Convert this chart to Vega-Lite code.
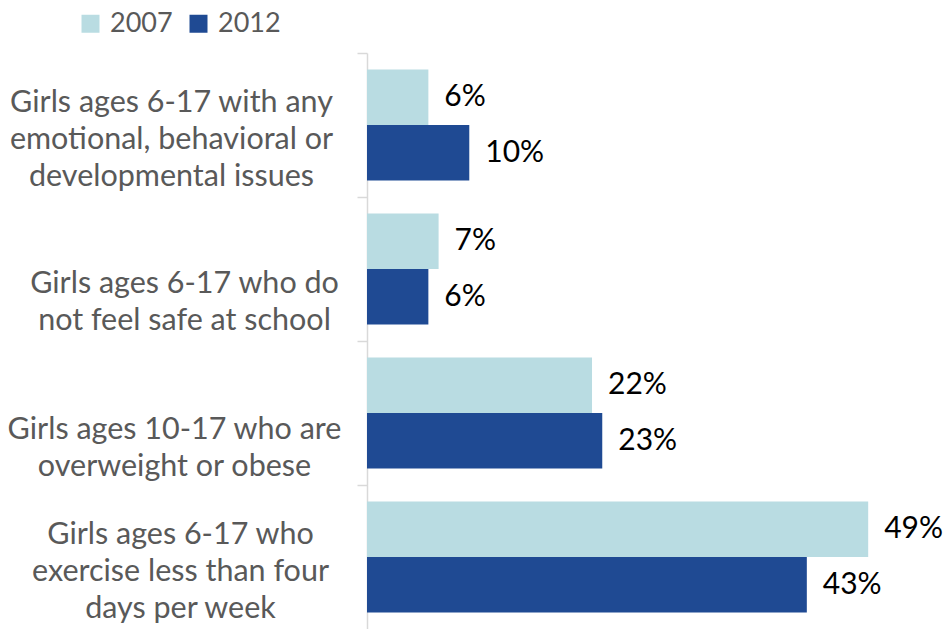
{
  "$schema": "https://vega.github.io/schema/vega-lite/v6.json",
  "width": 582,
  "height": 576,
  "autosize": {"type": "none"},
  "padding": {"left": 367, "top": 53, "right": 0, "bottom": 0},
  "background": "white",
  "config": {"view": {"stroke": null}},
  "data": {
    "values": [
      {"category": "Girls ages 6-17 with any|emotional, behavioral or|developmental issues", "year": "2007", "value": 6},
      {"category": "Girls ages 6-17 with any|emotional, behavioral or|developmental issues", "year": "2012", "value": 10},
      {"category": "Girls ages 6-17 who do|not feel safe at school", "year": "2007", "value": 7},
      {"category": "Girls ages 6-17 who do|not feel safe at school", "year": "2012", "value": 6},
      {"category": "Girls ages 10-17 who are|overweight or obese", "year": "2007", "value": 22},
      {"category": "Girls ages 10-17 who are|overweight or obese", "year": "2012", "value": 23},
      {"category": "Girls ages 6-17 who|exercise less than four|days per week", "year": "2007", "value": 49},
      {"category": "Girls ages 6-17 who|exercise less than four|days per week", "year": "2012", "value": 43}
    ]
  },
  "transform": [{"calculate": "datum.value + '%'", "as": "label"}],
  "encoding": {
    "y": {
      "field": "category",
      "type": "nominal",
      "sort": null,
      "scale": {"paddingInner": 0, "paddingOuter": 0},
      "axis": {
        "title": null,
        "bandPosition": 0,
        "domainColor": "#d9d9d9",
        "domainWidth": 1.5,
        "tickColor": "#d9d9d9",
        "tickWidth": 1.5,
        "tickSize": 10,
        "labelFont": "Lato",
        "labelFontSize": 30.5,
        "labelColor": "#595959",
        "labelExpr": "split(datum.label, '|')",
        "labelLineHeight": 37,
        "labelBaseline": "bottom",
        "labelAlign": "center",
        "labelLimit": 0,
        "labelOverlap": false,
        "labelBound": false,
        "labelOffset": {
          "condition": [
            {"test": "indexof(datum.value, 'safe') >= 0", "value": 30},
            {"test": "indexof(datum.value, 'obese') >= 0", "value": 32},
            {"test": "indexof(datum.value, 'week') >= 0", "value": -7}
          ],
          "value": -7
        },
        "labelPadding": {
          "condition": [
            {"test": "indexof(datum.value, 'safe') >= 0", "value": 173},
            {"test": "indexof(datum.value, 'obese') >= 0", "value": 183},
            {"test": "indexof(datum.value, 'week') >= 0", "value": 177}
          ],
          "value": 186
        }
      }
    },
    "yOffset": {
      "field": "year",
      "type": "nominal",
      "scale": {"paddingOuter": 0.3, "paddingInner": 0}
    },
    "x": {
      "field": "value",
      "type": "quantitative",
      "scale": {"domain": [0, 56.9]},
      "axis": null
    }
  },
  "layer": [
    {
      "mark": {"type": "bar"},
      "encoding": {
        "color": {
          "field": "year",
          "type": "nominal",
          "scale": {"domain": ["2007", "2012"], "range": ["#b9dce2", "#1f4a93"]},
          "legend": {
            "orient": "none",
            "legendX": -290,
            "legendY": -43,
            "direction": "horizontal",
            "title": null,
            "symbolType": "square",
            "symbolSize": 324,
            "symbolStrokeWidth": 0,
            "symbolOpacity": 1,
            "labelFont": "Lato",
            "labelFontSize": 27,
            "labelColor": "#595959",
            "labelOffset": 6,
            "columnPadding": 12,
            "padding": 0
          }
        }
      }
    },
    {
      "mark": {"type": "text", "align": "left", "baseline": "middle", "dx": 16, "fontSize": 30, "font": "Lato", "color": "#000000"},
      "encoding": {"text": {"field": "label", "type": "nominal"}}
    }
  ]
}
